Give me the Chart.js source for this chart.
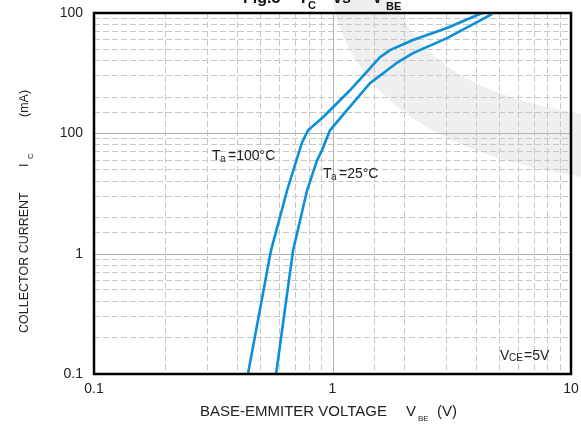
<!DOCTYPE html>
<html>
<head>
<meta charset="utf-8">
<script src="https://cdn.jsdelivr.net/npm/chart.js@4"></script>
<style>
  html, body { margin: 0; padding: 0; background: #fff; }
  #wrap { width: 581px; height: 425px; }
</style>
</head>
<body>
<div id="wrap"><canvas id="icVbe"></canvas></div>
<script>
// values (V_BE in volts, I_C in mA)
const vbe100 = [0.442, 0.552, 0.645, 0.745, 0.790, 0.912, 1.184, 1.582, 1.742, 2.175, 3.021, 4.236];
const ic100 = [0.1, 1.06, 3.35, 8.41, 10.6, 13.6, 22.8, 43.0, 49.2, 59.6, 75.0, 100];
const vbe25 = [0.580, 0.683, 0.782, 0.861, 0.903, 0.976, 1.150, 1.436, 1.882, 2.175, 3.021, 4.666];
const ic25 = [0.1, 1.06, 3.35, 5.96, 7.22, 10.6, 15.6, 26.1, 39.1, 46.4, 61.9, 98];

const xDecades = [0.1, 1, 10];
const xTickLabels = ["0.1", "1", "10"];
const yDecades = [0.1, 1, 10, 100];
const yTickLabels = ["0.1", "1", "100", "100"]; // as printed on the original

const FONT = "'Liberation Sans', Arial, sans-serif";
const LINE_BLUE = "#0b8fd8";

function pts(xs, ys) {
    return xs.map((x, i) => ({ x: x, y: ys[i] }));
}

function decadeIndex(v, list) {
    return list.findIndex(d => Math.abs(v - d) / d < 1e-6);
}

// light grey watermark band behind the grid
const watermark = {
    id: "watermark",
    beforeDraw(chart) {
        const ctx = chart.ctx;
        ctx.save();
        ctx.strokeStyle = "#efefef";
        ctx.lineWidth = 62;
        ctx.beginPath();
        ctx.moveTo(362, -10);
        ctx.quadraticCurveTo(385, 120, 600, 148);
        ctx.stroke();
        ctx.restore();
    },
};

// solid lines at the decades, frame, and all the texts with subscripts
const decor = {
    id: "decor",
    beforeDatasetsDraw(chart) {
        const { ctx, chartArea: a, scales } = chart;
        ctx.save();
        ctx.strokeStyle = "#b3b3b3";
        ctx.lineWidth = 1;
        xDecades.forEach(v => {
            const px = Math.round(scales.x.getPixelForValue(v)) + 0.5;
            ctx.beginPath();
            ctx.moveTo(px, a.top);
            ctx.lineTo(px, a.bottom);
            ctx.stroke();
        });
        yDecades.forEach(v => {
            const py = Math.round(scales.y.getPixelForValue(v)) + 0.5;
            ctx.beginPath();
            ctx.moveTo(a.left, py);
            ctx.lineTo(a.right, py);
            ctx.stroke();
        });
        ctx.restore();
    },
    afterDatasetsDraw(chart) {
        const { ctx, chartArea: a } = chart;
        ctx.save();
        ctx.strokeStyle = "#000";
        ctx.lineWidth = 2.5;
        ctx.strokeRect(a.left, a.top, a.right - a.left, a.bottom - a.top);

        ctx.fillStyle = "#111";
        ctx.textBaseline = "alphabetic";
        ctx.textAlign = "left";

        // title, mostly cut off by the top edge
        ctx.font = "bold 16px " + FONT;
        ctx.fillText("Fig.5", 243, 3);
        ctx.fillText("I", 301, 3);
        ctx.fillText("vs", 333, 3);
        ctx.fillText("V", 372, 3);
        ctx.font = "bold 11px " + FONT;
        ctx.fillText("C", 308, 9);
        ctx.fillText("BE", 386, 10);

        // curve labels
        ctx.fillStyle = "#222";
        ctx.font = "14px " + FONT;
        ctx.fillText("T", 212, 160);
        ctx.fillText("=100°C", 228, 160);
        ctx.fillText("T", 323, 178);
        ctx.fillText("=25°C", 339, 178);
        ctx.fillText("V", 500, 360);
        ctx.fillText("=5V", 524, 360);
        ctx.font = "10px " + FONT;
        ctx.fillText("a", 220, 162);
        ctx.fillText("a", 331, 180);
        ctx.fillText("CE", 509, 361);

        // x axis title
        ctx.font = "15px " + FONT;
        ctx.fillText("BASE-EMMITER VOLTAGE", 200, 416);
        ctx.fillText("V", 406, 416);
        ctx.fillText("(V)", 437, 416);
        ctx.font = "8px " + FONT;
        ctx.fillText("BE", 418, 421);

        // y axis title, rotated
        ctx.translate(25, 333);
        ctx.rotate(-Math.PI / 2);
        ctx.textBaseline = "middle";
        ctx.font = "12.5px " + FONT;
        ctx.fillText("COLLECTOR CURRENT", 0, 0);
        ctx.fillText("I", 166, 0);
        ctx.fillText("(mA)", 216, 0);
        ctx.font = "8px " + FONT;
        ctx.fillText("C", 174, 6);
        ctx.restore();
    },
};

const minorGrid = (ctx, list) => {
    const v = ctx.tick ? ctx.tick.value : 0;
    return decadeIndex(v, list) >= 0 ? "rgba(0,0,0,0)" : "#c8c8c8";
};

const icVbeConfig = {
    type: "scatter",
    data: {
        datasets: [
            {
                label: "Ta=100°C",
                data: pts(vbe100, ic100),
            },
            {
                label: "Ta=25°C",
                data: pts(vbe25, ic25),
            },
        ],
    },
    options: {
        responsive: true,
        maintainAspectRatio: false,
        animation: false,
        layout: { padding: { top: 13, right: 10, left: 0, bottom: 0 } },
        elements: {
            line: { borderColor: LINE_BLUE, borderWidth: 2.6, tension: 0 },
            point: { radius: 0, hoverRadius: 0 },
        },
        datasets: {
            scatter: { showLine: true, borderColor: LINE_BLUE },
        },
        plugins: {
            legend: { display: false },
            tooltip: { enabled: false },
        },
        scales: {
            x: {
                type: "logarithmic",
                min: 0.1,
                max: 10,
                afterFit: s => {
                    s.height = 51;
                    s.paddingLeft = 0;
                    s.paddingRight = 0;
                },
                border: { display: false, dash: [6, 3] },
                grid: {
                    drawTicks: false,
                    color: c => minorGrid(c, xDecades),
                },
                ticks: {
                    autoSkip: false,
                    maxRotation: 0,
                    padding: 7,
                    color: "#222",
                    font: { family: FONT, size: 14 },
                    callback: v => {
                        const i = decadeIndex(v, xDecades);
                        return i >= 0 ? xTickLabels[i] : "";
                    },
                },
            },
            y: {
                type: "logarithmic",
                min: 0.1,
                max: 100,
                afterFit: s => {
                    s.width = 94;
                    s.paddingTop = 0;
                    s.paddingBottom = 0;
                },
                border: { display: false, dash: [6, 3] },
                grid: {
                    drawTicks: false,
                    color: c => minorGrid(c, yDecades),
                },
                ticks: {
                    autoSkip: false,
                    padding: 11,
                    color: "#222",
                    font: { family: FONT, size: 14 },
                    callback: v => {
                        const i = decadeIndex(v, yDecades);
                        return i >= 0 ? yTickLabels[i] : "";
                    },
                },
            },
        },
    },
    plugins: [watermark, decor],
};

const icVbeCtx = document.getElementById("icVbe");
window.icVbeChart = new Chart(icVbeCtx, icVbeConfig);
</script>
</body>
</html>
